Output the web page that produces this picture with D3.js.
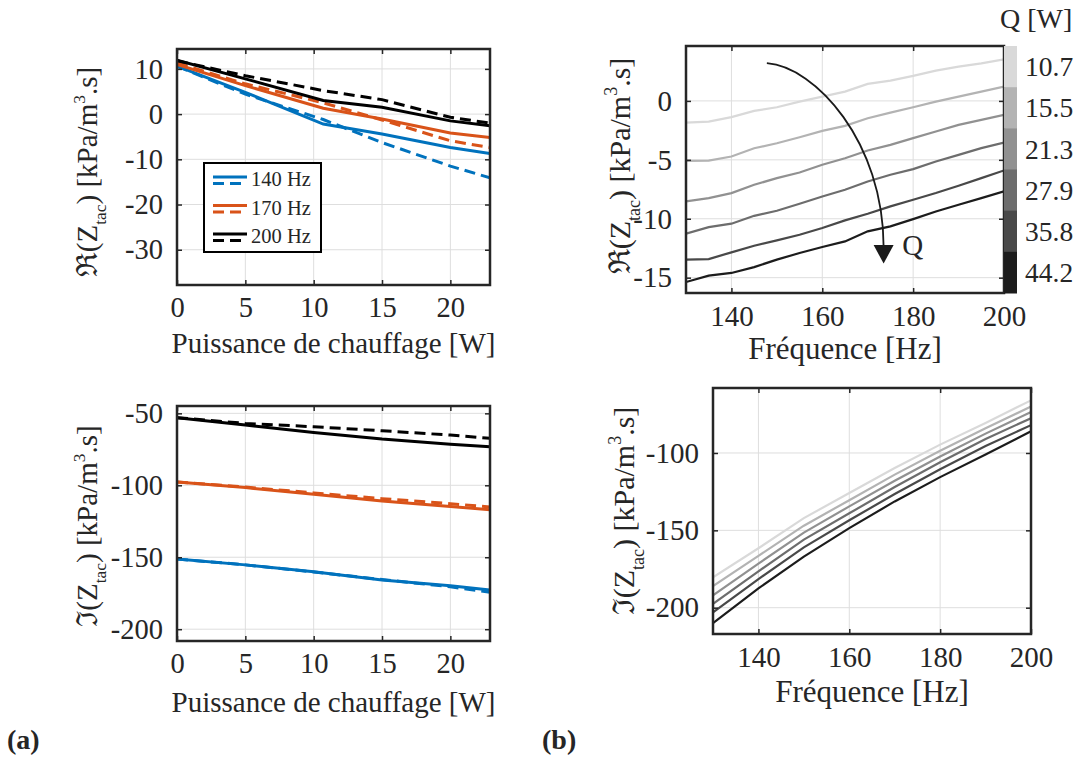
<!DOCTYPE html>
<html><head><meta charset="utf-8">
<script src="https://cdn.jsdelivr.net/npm/d3@7"></script>
<style>
body{margin:0;background:#fff;}
svg text{font-family:"Liberation Serif","Times New Roman",serif;fill:#262626;}
</style></head><body>
<svg id="c" width="1087" height="758"></svg>
<script>
// ---------- DATA ----------
// (a) top: real part vs heating power
const powerTop = [0, 5, 10.7, 15, 20, 22.9];
const re140Solid = [10.6, 4.8, -2.2, -4.4, -7.4, -8.7];
const re140Dash  = [10.6, 4.4, -1.2, -6.3, -11.5, -14.1];
const re170Solid = [11.0, 6.3, 1.3, -1.1, -4.2, -5.2];
const re170Dash  = [11.3, 6.7, 2.5, -1.3, -5.9, -7.4];
const re200Solid = [11.9, 7.8, 3.0, 1.5, -1.5, -2.6];
const re200Dash  = [11.8, 8.5, 5.2, 3.2, -0.7, -2.0];
// (a) bottom: imaginary part vs heating power
const powerBot = [0, 5, 10, 15, 20, 22.9];
const im140Solid = [-151.2, -155.3, -160.0, -165.8, -169.8, -172.8];
const im140Dash  = [-151.2, -155.3, -160.2, -165.5, -170.5, -174.4];
const im170Solid = [-97.7, -101.6, -106.3, -110.9, -114.7, -117.0];
const im170Dash  = [-97.7, -101.2, -105.3, -109.3, -112.8, -115.1];
const im200Solid = [-53.0, -58.1, -63.3, -67.9, -71.4, -73.3];
const im200Dash  = [-53.0, -57.0, -59.3, -62.1, -65.1, -67.4];
const legendLabels = ["140 Hz", "170 Hz", "200 Hz"];
const seriesColors = ["#0072BD", "#D95319", "#000000"];

// (b) top: real part vs frequency, one curve per heating power Q
const freqRe = [130, 135, 140, 145, 150, 155, 160, 165, 170, 175, 180, 185, 190, 195, 200];
const reQ107 = [-1.84, -1.75, -1.38, -0.85, -0.54, -0.06, 0.37, 0.79, 1.44, 1.72, 2.12, 2.57, 2.91, 3.19, 3.53];
const reQ155 = [-5.08, -5.06, -4.72, -4.02, -3.59, -3.08, -2.54, -2.12, -1.47, -0.99, -0.54, -0.06, 0.37, 0.79, 1.21];
const reQ213 = [-8.53, -8.25, -7.82, -7.12, -6.55, -6.07, -5.42, -4.86, -4.21, -3.73, -3.16, -2.60, -2.03, -1.61, -1.19];
const reQ279 = [-11.27, -10.71, -10.42, -9.75, -9.32, -8.73, -8.11, -7.54, -6.84, -6.27, -5.79, -5.14, -4.58, -4.01, -3.53];
const reQ358 = [-13.47, -13.42, -12.85, -12.29, -11.84, -11.36, -10.79, -10.14, -9.58, -8.95, -8.39, -7.82, -7.20, -6.55, -5.90];
const reQ442 = [-15.37, -14.83, -14.60, -14.10, -13.47, -12.91, -12.40, -11.92, -11.07, -10.65, -10.03, -9.38, -8.81, -8.25, -7.68];
// (b) bottom: imaginary part vs frequency
const freqIm = [130, 140, 150, 160, 170, 180, 190, 200];
const imQ107 = [-180.3, -161.6, -142.1, -125.9, -109.7, -94.6, -80.6, -66.0];
const imQ155 = [-186.0, -166.5, -147.0, -130.5, -114.0, -98.5, -84.0, -70.0];
const imQ213 = [-192.0, -171.5, -151.5, -134.5, -118.0, -102.3, -87.5, -73.5];
const imQ279 = [-197.5, -176.5, -156.0, -139.0, -122.0, -106.0, -91.0, -77.5];
const imQ358 = [-203.0, -181.5, -161.0, -143.5, -126.5, -110.5, -95.5, -82.0];
const imQ442 = [-210.0, -187.5, -167.0, -148.6, -131.3, -115.6, -101.0, -86.0];
const qLevels = ["10.7", "15.5", "21.3", "27.9", "35.8", "44.2"];
const grayColors = ["#d9d9d9", "#b3b3b3", "#919191", "#6d6d6d", "#494949", "#1c1c1c"];

// tick values
const powerTicks = [0, 5, 10, 15, 20];
const reTicksA = [-30, -20, -10, 0, 10];
const imTicksA = [-200, -150, -100, -50];
const freqTicks = [140, 160, 180, 200];
const reTicksB = [-15, -10, -5, 0];
const imTicksB = [-200, -150, -100];

// arrow annotation (data coords of the Q arrow in (b) top)
const arrowPath = [[147.8, 3.2], [158.5, 2.9], [173.5, -3.5], [173.5, -12.4]];
const arrowTipY = -13.8;

// ---------- DRAW ----------
const svg = d3.select("#c");
const defs = svg.append("defs");
const fmt = d => String(d);

function panel(o) {
  const g = svg.append("g");
  const x = d3.scaleLinear().domain(o.xd).range([o.l, o.r]);
  const y = d3.scaleLinear().domain(o.yd).range([o.b, o.t]);
  // grid
  g.append("g").selectAll("line").data(o.xt).join("line")
    .attr("x1", d => x(d)).attr("x2", d => x(d)).attr("y1", o.t).attr("y2", o.b)
    .attr("stroke", "#dedede").attr("stroke-width", 1);
  g.append("g").selectAll("line").data(o.yt).join("line")
    .attr("y1", d => y(d)).attr("y2", d => y(d)).attr("x1", o.l).attr("x2", o.r)
    .attr("stroke", "#dedede").attr("stroke-width", 1);
  defs.append("clipPath").attr("id", "clip" + o.id).append("rect")
    .attr("x", o.l).attr("y", o.t).attr("width", o.r - o.l).attr("height", o.b - o.t);
  const plot = g.append("g").attr("clip-path", `url(#clip${o.id})`);
  // axes
  const ax = g.append("g").attr("transform", `translate(0,${o.b})`)
    .call(d3.axisBottom(x).tickValues(o.xt).tickFormat(fmt).tickSizeInner(-5).tickSizeOuter(0).tickPadding(o.xpad));
  const ay = g.append("g").attr("transform", `translate(${o.l},0)`)
    .call(d3.axisLeft(y).tickValues(o.yt).tickFormat(fmt).tickSizeInner(-5).tickSizeOuter(0).tickPadding(14));
  const at = g.append("g").attr("transform", `translate(0,${o.t})`)
    .call(d3.axisTop(x).tickValues(o.xt).tickFormat("").tickSizeInner(-5).tickSizeOuter(0));
  const ar = g.append("g").attr("transform", `translate(${o.r},0)`)
    .call(d3.axisRight(y).tickValues(o.yt).tickFormat("").tickSizeInner(-5).tickSizeOuter(0));
  [ax, ay, at, ar].forEach(a => {
    a.attr("font-family", null).attr("font-size", o.tfs);
    a.select(".domain").remove();
    a.selectAll(".tick line").attr("stroke", "#262626").attr("stroke-width", 1.5);
  });
  // x label
  g.append("text").attr("x", (o.l + o.r) / 2 + o.xlDx).attr("y", o.xlY)
    .attr("text-anchor", "middle").attr("font-size", o.lfs).text(o.xlabel);
  // y label
  const fs = o.yfs;
  const t = g.append("text").attr("transform", `translate(${o.ylX},${o.ylY}) rotate(-90)`)
    .attr("text-anchor", "middle").attr("font-size", fs);
  t.append("tspan").text(o.sym + "(Z");
  t.append("tspan").attr("font-size", fs * 0.6).attr("dy", fs * 0.32).text("tac");
  t.append("tspan").attr("dy", -fs * 0.32).text(") [kPa/m");
  t.append("tspan").attr("font-size", fs * 0.6).attr("dy", -fs * 0.42).text("3");
  t.append("tspan").attr("dy", fs * 0.42).text(".s]");
  return {g, x, y, plot, o};
}

function box(p) {
  const o = p.o;
  p.g.append("rect").attr("x", o.l).attr("y", o.t).attr("width", o.r - o.l).attr("height", o.b - o.t)
    .attr("fill", "none").attr("stroke", "#262626").attr("stroke-width", 2.5);
}

function drawLine(p, xs, ys, color, dashed, w) {
  const line = d3.line().x((d, i) => p.x(xs[i])).y(d => p.y(d));
  p.plot.append("path").datum(ys).attr("d", line).attr("fill", "none")
    .attr("stroke", color).attr("stroke-width", w)
    .attr("stroke-dasharray", dashed ? "11,6" : null);
}

// ---- (a) top ----
const pA1 = panel({id: "a1", l: 177, r: 490, t: 49, b: 285, xd: [0, 22.9], yd: [-37.8, 14.4],
  xt: powerTicks, yt: reTicksA, tfs: 28.5, lfs: 29, yfs: 29, xpad: 12, xlDx: 0, xlY: 353,
  xlabel: "Puissance de chauffage [W]", sym: "\u211C", ylX: 97, ylY: 172});
const reA = [[re140Solid, re140Dash], [re170Solid, re170Dash], [re200Solid, re200Dash]];
reA.forEach((pair, i) => {
  drawLine(pA1, powerTop, pair[0], seriesColors[i], false, 3);
  drawLine(pA1, powerTop, pair[1], seriesColors[i], true, 3);
});
box(pA1);
// legend
const lg = pA1.g.append("g").attr("transform", "translate(204,163)");
lg.append("rect").attr("width", 117).attr("height", 89).attr("fill", "#fff").attr("stroke", "#000").attr("stroke-width", 2);
legendLabels.forEach((lab, i) => {
  const yy = 14 + i * 28.5;
  lg.append("line").attr("x1", 9).attr("x2", 43).attr("y1", yy).attr("y2", yy)
    .attr("stroke", seriesColors[i]).attr("stroke-width", 3);
  lg.append("line").attr("x1", 9).attr("x2", 43).attr("y1", yy + 6.5).attr("y2", yy + 6.5)
    .attr("stroke", seriesColors[i]).attr("stroke-width", 3).attr("stroke-dasharray", "11,6");
  lg.append("text").attr("x", 47).attr("y", yy + 9).attr("font-size", 20.5).text(lab);
});

// ---- (a) bottom ----
const pA2 = panel({id: "a2", l: 177, r: 490, t: 406, b: 641, xd: [0, 22.9], yd: [-208.2, -44.9],
  xt: powerTicks, yt: imTicksA, tfs: 28.5, lfs: 29, yfs: 29, xpad: 12, xlDx: 0, xlY: 712,
  xlabel: "Puissance de chauffage [W]", sym: "\u2111", ylX: 97, ylY: 526});
const imA = [[im140Solid, im140Dash], [im170Solid, im170Dash], [im200Solid, im200Dash]];
imA.forEach((pair, i) => {
  drawLine(pA2, powerBot, pair[0], seriesColors[i], false, 3);
  drawLine(pA2, powerBot, pair[1], seriesColors[i], true, 3);
});
box(pA2);

// ---- (b) top ----
const pB1 = panel({id: "b1", l: 686, r: 1004, t: 46, b: 293, xd: [130, 200], yd: [-16.3, 4.66],
  xt: freqTicks, yt: reTicksB, tfs: 29, lfs: 31, yfs: 30, xpad: 12, xlDx: 0, xlY: 359,
  xlabel: "Fréquence [Hz]", sym: "\u211C", ylX: 630, ylY: 166});
[reQ107, reQ155, reQ213, reQ279, reQ358, reQ442].forEach((s, i) =>
  drawLine(pB1, freqRe, s, grayColors[i], false, 2.2));
// arrow
const ap = d3.path();
ap.moveTo(pB1.x(arrowPath[0][0]), pB1.y(arrowPath[0][1]));
ap.bezierCurveTo(pB1.x(arrowPath[1][0]), pB1.y(arrowPath[1][1]),
  pB1.x(arrowPath[2][0]), pB1.y(arrowPath[2][1]),
  pB1.x(arrowPath[3][0]), pB1.y(arrowPath[3][1]));
pB1.g.append("path").attr("d", ap.toString()).attr("fill", "none").attr("stroke", "#1a1a1a").attr("stroke-width", 1.8);
const tipX = pB1.x(arrowPath[3][0]), baseY = pB1.y(arrowPath[3][1]), tipY = pB1.y(arrowTipY);
pB1.g.append("path").attr("d", `M${tipX - 10},${baseY - 2}L${tipX + 10},${baseY - 2}L${tipX},${tipY}Z`).attr("fill", "#1a1a1a");
pB1.g.append("text").attr("x", pB1.x(177.6)).attr("y", pB1.y(-13.1)).attr("font-size", 29).text("Q");
box(pB1);
// colorbar
const cb = d3.scaleBand().domain(qLevels).range([46, 293]);
const cbg = svg.append("g");
cbg.selectAll("rect").data(qLevels).join("rect")
  .attr("x", 1004).attr("width", 13).attr("y", d => cb(d)).attr("height", cb.bandwidth() + 0.5)
  .attr("fill", (d, i) => grayColors[i]);
cbg.selectAll("text").data(qLevels).join("text")
  .attr("x", 1025).attr("y", d => cb(d) + cb.bandwidth() / 2).attr("dy", "0.35em")
  .attr("font-size", 27.5).text(d => d);
cbg.append("text").attr("x", 1000).attr("y", 28).attr("font-size", 28).text("Q [W]");

// ---- (b) bottom ----
const pB2 = panel({id: "b2", l: 713, r: 1031, t: 388, b: 634, xd: [130, 200], yd: [-217, -58],
  xt: freqTicks, yt: imTicksB, tfs: 29, lfs: 31, yfs: 30, xpad: 12, xlDx: 0, xlY: 702,
  xlabel: "Fréquence [Hz]", sym: "\u2111", ylX: 634, ylY: 511});
[imQ107, imQ155, imQ213, imQ279, imQ358, imQ442].forEach((s, i) =>
  drawLine(pB2, freqIm, s, grayColors[i], false, 2.2));
box(pB2);

// panel tags
svg.append("text").attr("x", 7).attr("y", 749).attr("font-size", 28).attr("font-weight", "bold").text("(a)");
svg.append("text").attr("x", 542).attr("y", 749).attr("font-size", 28).attr("font-weight", "bold").text("(b)");
</script>
</body></html>
